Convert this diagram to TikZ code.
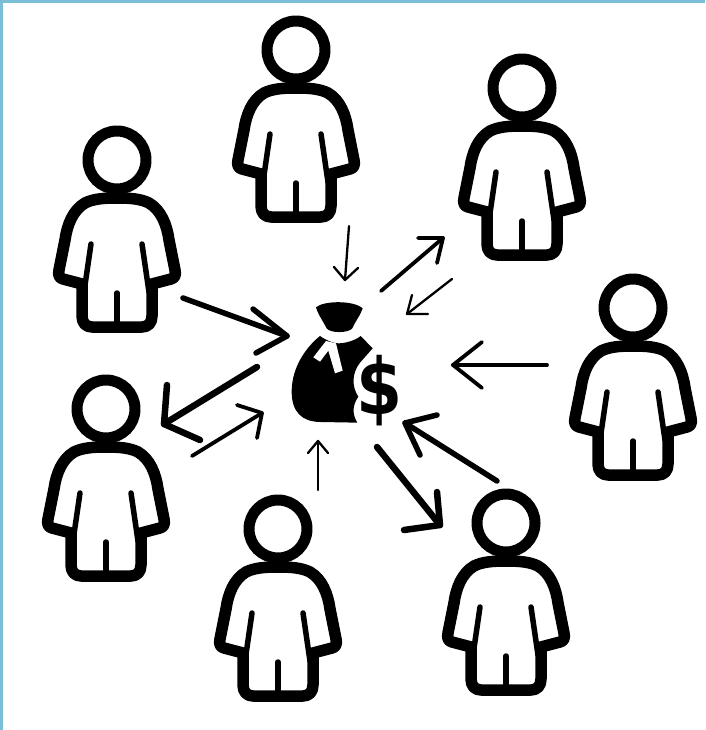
\documentclass[tikz,border=0pt]{standalone}
\usepackage{fontspec}
\setmainfont{DejaVu Sans}
\definecolor{frameblue}{HTML}{7BBFD6}
\begin{document}
\begin{tikzpicture}[x=1pt,y=-1pt,line join=round,line cap=round,
  person/.pic={
    \draw[line width=11pt] (0,0) circle (29);
    \draw[line width=11.5pt] (0,38)
      .. controls (-14,38) and (-24,39) .. (-32,43)
      .. controls (-44,50) and (-50,65) .. (-52,80)
      -- (-58,110) .. controls (-59,115) and (-58,118) .. (-54,119)
      -- (-35,124) -- (-35,156)
      .. controls (-35,163) and (-31,167) .. (-25,167)
      -- (25,167) .. controls (31,167) and (35,163) .. (35,156)
      -- (35,124) -- (54,119) .. controls (58,118) and (59,115) .. (58,110)
      -- (52,80) .. controls (50,65) and (44,50) .. (32,43)
      .. controls (24,39) and (14,38) .. (0,38) -- cycle;
    \draw[line width=5.5pt] (-26,84) -- (-33,132);
    \draw[line width=5.5pt] (25,84) -- (32,132);
    \draw[line width=5.5pt] (0,133) -- (0,165);
  },
  thinarrow/.style={line width=2.3pt},
  medarrow/.style={line width=3.8pt},
  thickarrow/.style={line width=5.5pt},
  heavyarrow/.style={line width=6.5pt}]
\useasboundingbox (0,0) rectangle (705,730);
\fill[white] (0,0) rectangle (705,730);
\fill[frameblue] (0,0) rectangle (705,3);
\fill[frameblue] (0,0) rectangle (3,730);

\foreach \nm/\px/\py in {p1/117/160,p2/296/50,p3/522/88,p4/633/308,p5/506/523,p6/278/529,p7/106/409}
  \pic (\nm) at (\px,\py) {person};

% money bag
\begin{scope}[shift={(270,280)},scale=0.3333]
  \fill (138,82) .. controls (160,62) and (250,60) .. (278,85)
     .. controls (272,105) and (255,125) .. (247,145)
     .. controls (235,160) and (180,160) .. (170,145)
     .. controls (160,125) and (145,105) .. (138,82) -- cycle;
  \fill (150,168) .. controls (110,200) and (65,260) .. (65,335)
     .. controls (65,395) and (95,425) .. (150,426)
     -- (262,428) .. controls (245,400) and (248,375) .. (265,350)
     .. controls (245,320) and (245,280) .. (270,248)
     -- (308,205) -- (272,168)
     .. controls (255,182) and (225,190) .. (205,190)
     .. controls (190,190) and (170,182) .. (150,168) -- cycle;
  \fill[white] (168,183) -- (130,232) -- (150,245) -- (175,212) -- (195,280)
     -- (218,272) -- (198,190) -- cycle;
\end{scope}
\node[xscale=0.85,inner sep=0pt] (dollar) at (380,391) {\fontsize{78}{78}\selectfont\bfseries\$};

% arrows
\foreach \nm/\sx/\sy/\tx/\ty/\ax/\ay/\bx/\by/\st in {
  a/349/226/345/280/334/267/358/268/thinarrow,
  b/381/291/443/238/418/238/437/263/medarrow,
  c/452/279/407/314/412/295/428/314/thinarrow,
  d/547/365/453/365/482/342/482/388/medarrow,
  e/497/481/405/423/437/415/420/455/thickarrow,
  f/377/447/440/525/437/492/404/530/heavyarrow,
  g/318/490/318/441/308/453/328/453/thinarrow,
  h/192/456/262/413/237/405/257/438/medarrow,
  i/257/367/164/424/167/385/200/440/heavyarrow,
  j/183/298/287/336/253/309/256/353/thickarrow}{
  \coordinate (\nm s) at (\sx,\sy);
  \coordinate (\nm t) at (\tx,\ty);
  \coordinate (\nm l) at (\ax,\ay);
  \coordinate (\nm r) at (\bx,\by);
  \draw[\st] (\nm s) -- (\nm t);
  \draw[\st] (\nm l) -- (\nm t) -- (\nm r);
}
\end{tikzpicture}
\end{document}
